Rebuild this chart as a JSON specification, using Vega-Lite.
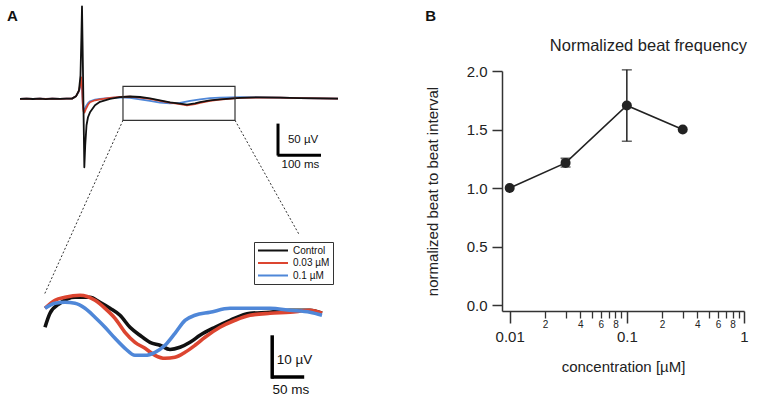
{
  "$schema": "https://vega.github.io/schema/vega-lite/v6.json",
  "padding": {"left": 0, "top": 5, "right": 5, "bottom": 0},
  "background": "white",
  "spacing": 80,
  "config": {
    "view": {"stroke": null},
    "font": "Liberation Sans",
    "axis": {"grid": false},
    "text": {"font": "Liberation Sans"}
  },
  "datasets": {
    "topTrace": [
      {"cond":"0.1 µM","t":0,"v":0},{"cond":"0.1 µM","t":15,"v":0.2},{"cond":"0.1 µM","t":30,"v":-0.2},{"cond":"0.1 µM","t":46.5,"v":0.2},{"cond":"0.1 µM","t":60,"v":-0.2},{"cond":"0.1 µM","t":75,"v":0.2},{"cond":"0.1 µM","t":93,"v":0},{"cond":"0.1 µM","t":108,"v":0.2},{"cond":"0.1 µM","t":120.9,"v":0.3},{"cond":"0.1 µM","t":130.2,"v":4},{"cond":"0.1 µM","t":137.2,"v":12},{"cond":"0.1 µM","t":140.7,"v":22},{"cond":"0.1 µM","t":142.6,"v":29.8},{"cond":"0.1 µM","t":144.2,"v":15},{"cond":"0.1 µM","t":146.1,"v":-8},{"cond":"0.1 µM","t":147.7,"v":-17},{"cond":"0.1 µM","t":150,"v":-18.5},{"cond":"0.1 µM","t":153.5,"v":-12},{"cond":"0.1 µM","t":158.1,"v":-7},{"cond":"0.1 µM","t":162.8,"v":-4},{"cond":"0.1 µM","t":174.4,"v":-1.5},{"cond":"0.1 µM","t":186,"v":0},{"cond":"0.1 µM","t":209.3,"v":1.5},{"cond":"0.1 µM","t":232.6,"v":2.2},{"cond":"0.1 µM","t":255.8,"v":1.6},{"cond":"0.1 µM","t":279.1,"v":-0.8},{"cond":"0.1 µM","t":302.3,"v":-3.5},{"cond":"0.1 µM","t":325.6,"v":-6},{"cond":"0.1 µM","t":348.8,"v":-7.5},{"cond":"0.1 µM","t":372.1,"v":-6.5},{"cond":"0.1 µM","t":395.3,"v":-3.5},{"cond":"0.1 µM","t":418.6,"v":-1},{"cond":"0.1 µM","t":441.9,"v":1},{"cond":"0.1 µM","t":465.1,"v":2},{"cond":"0.1 µM","t":511.6,"v":2.6},{"cond":"0.1 µM","t":558.1,"v":2.4},{"cond":"0.1 µM","t":604.7,"v":2},{"cond":"0.1 µM","t":651.2,"v":1.2},{"cond":"0.1 µM","t":697.7,"v":0.8},{"cond":"0.1 µM","t":739.5,"v":0.3},
      {"cond":"0.03 µM","t":0,"v":0},{"cond":"0.03 µM","t":15,"v":0.3},{"cond":"0.03 µM","t":30,"v":-0.2},{"cond":"0.03 µM","t":46.5,"v":0.3},{"cond":"0.03 µM","t":60,"v":-0.3},{"cond":"0.03 µM","t":75,"v":0.2},{"cond":"0.03 µM","t":93,"v":0},{"cond":"0.03 µM","t":108,"v":0.2},{"cond":"0.03 µM","t":120.9,"v":0.3},{"cond":"0.03 µM","t":130.2,"v":4},{"cond":"0.03 µM","t":137.2,"v":13},{"cond":"0.03 µM","t":140.7,"v":25},{"cond":"0.03 µM","t":142.6,"v":34.7},{"cond":"0.03 µM","t":144.2,"v":20},{"cond":"0.03 µM","t":146.1,"v":-10},{"cond":"0.03 µM","t":147.7,"v":-20},{"cond":"0.03 µM","t":150,"v":-22},{"cond":"0.03 µM","t":153.5,"v":-16},{"cond":"0.03 µM","t":158.1,"v":-9.7},{"cond":"0.03 µM","t":162.8,"v":-5.6},{"cond":"0.03 µM","t":174.4,"v":-2.4},{"cond":"0.03 µM","t":186,"v":-0.8},{"cond":"0.03 µM","t":209.3,"v":1.6},{"cond":"0.03 µM","t":232.6,"v":3.2},{"cond":"0.03 µM","t":255.8,"v":3.4},{"cond":"0.03 µM","t":279.1,"v":2},{"cond":"0.03 µM","t":302.3,"v":-0.2},{"cond":"0.03 µM","t":325.6,"v":-3.2},{"cond":"0.03 µM","t":348.8,"v":-6},{"cond":"0.03 µM","t":372.1,"v":-8.5},{"cond":"0.03 µM","t":388.4,"v":-10.5},{"cond":"0.03 µM","t":407,"v":-8.5},{"cond":"0.03 µM","t":418.6,"v":-6.5},{"cond":"0.03 µM","t":441.9,"v":-3.2},{"cond":"0.03 µM","t":465.1,"v":-1.2},{"cond":"0.03 µM","t":511.6,"v":1.6},{"cond":"0.03 µM","t":558.1,"v":2},{"cond":"0.03 µM","t":604.7,"v":1.8},{"cond":"0.03 µM","t":651.2,"v":1},{"cond":"0.03 µM","t":697.7,"v":0.8},{"cond":"0.03 µM","t":739.5,"v":0.3},
      {"cond":"Control","t":0,"v":0},{"cond":"Control","t":15,"v":0.4},{"cond":"Control","t":30,"v":-0.3},{"cond":"Control","t":46.5,"v":0.2},{"cond":"Control","t":60,"v":-0.4},{"cond":"Control","t":75,"v":0.3},{"cond":"Control","t":93,"v":0},{"cond":"Control","t":108,"v":0.3},{"cond":"Control","t":120.9,"v":0.3},{"cond":"Control","t":130.2,"v":4},{"cond":"Control","t":137.2,"v":13.7},{"cond":"Control","t":140.7,"v":37.9},{"cond":"Control","t":142.6,"v":94.4},{"cond":"Control","t":144.2,"v":149.2},{"cond":"Control","t":146.1,"v":62.1},{"cond":"Control","t":147.7,"v":-18.5},{"cond":"Control","t":149.6,"v":-110.5},{"cond":"Control","t":151.7,"v":-75},{"cond":"Control","t":154.7,"v":-42.7},{"cond":"Control","t":158.1,"v":-29.8},{"cond":"Control","t":162.8,"v":-21.8},{"cond":"Control","t":174.4,"v":-10.5},{"cond":"Control","t":186,"v":-4.8},{"cond":"Control","t":209.3,"v":0},{"cond":"Control","t":232.6,"v":2.7},{"cond":"Control","t":255.8,"v":3.7},{"cond":"Control","t":279.1,"v":2.9},{"cond":"Control","t":302.3,"v":0.8},{"cond":"Control","t":325.6,"v":-2.4},{"cond":"Control","t":348.8,"v":-5.6},{"cond":"Control","t":372.1,"v":-7.7},{"cond":"Control","t":388.4,"v":-9.4},{"cond":"Control","t":407,"v":-7.3},{"cond":"Control","t":418.6,"v":-5.2},{"cond":"Control","t":441.9,"v":-2.7},{"cond":"Control","t":465.1,"v":-0.8},{"cond":"Control","t":511.6,"v":1.6},{"cond":"Control","t":558.1,"v":2.4},{"cond":"Control","t":604.7,"v":1.9},{"cond":"Control","t":651.2,"v":1.1},{"cond":"Control","t":697.7,"v":0.8},{"cond":"Control","t":739.5,"v":0.3}
    ],
    "insetTrace": [
      {"cond":"Control","t":0,"v":-4.08},{"cond":"Control","t":7.8,"v":-0.72},{"cond":"Control","t":23.4,"v":1.68},{"cond":"Control","t":46.9,"v":3.12},{"cond":"Control","t":70.3,"v":3.12},{"cond":"Control","t":85.9,"v":1.92},{"cond":"Control","t":101.6,"v":0.48},{"cond":"Control","t":117.2,"v":-1.2},{"cond":"Control","t":132.8,"v":-4.08},{"cond":"Control","t":148.4,"v":-6},{"cond":"Control","t":164.1,"v":-7.68},{"cond":"Control","t":179.7,"v":-8.4},{"cond":"Control","t":195.3,"v":-9.4},{"cond":"Control","t":210.9,"v":-8.88},{"cond":"Control","t":226.6,"v":-7.68},{"cond":"Control","t":242.2,"v":-6},{"cond":"Control","t":265.6,"v":-4.08},{"cond":"Control","t":289.1,"v":-2.4},{"cond":"Control","t":320.3,"v":-0.72},{"cond":"Control","t":351.6,"v":-0.48},{"cond":"Control","t":382.8,"v":0},{"cond":"Control","t":414.1,"v":0},{"cond":"Control","t":432.8,"v":-0.72},
      {"cond":"0.03 µM","t":0,"v":0.48},{"cond":"0.03 µM","t":15.6,"v":2.4},{"cond":"0.03 µM","t":31.3,"v":3.12},{"cond":"0.03 µM","t":54.7,"v":3.6},{"cond":"0.03 µM","t":78.1,"v":2.4},{"cond":"0.03 µM","t":93.8,"v":0.48},{"cond":"0.03 µM","t":109.4,"v":-1.92},{"cond":"0.03 µM","t":125,"v":-5.28},{"cond":"0.03 µM","t":140.6,"v":-7.68},{"cond":"0.03 µM","t":156.3,"v":-9.12},{"cond":"0.03 µM","t":171.9,"v":-10.8},{"cond":"0.03 µM","t":187.5,"v":-11.52},{"cond":"0.03 µM","t":203.1,"v":-11.28},{"cond":"0.03 µM","t":218.8,"v":-10.08},{"cond":"0.03 µM","t":234.4,"v":-8.4},{"cond":"0.03 µM","t":250,"v":-6.48},{"cond":"0.03 µM","t":273.4,"v":-4.08},{"cond":"0.03 µM","t":296.9,"v":-2.4},{"cond":"0.03 µM","t":320.3,"v":-1.2},{"cond":"0.03 µM","t":351.6,"v":-0.72},{"cond":"0.03 µM","t":382.8,"v":-0.48},{"cond":"0.03 µM","t":414.1,"v":0},{"cond":"0.03 µM","t":432.8,"v":-0.72},
      {"cond":"0.1 µM","t":0,"v":0.48},{"cond":"0.1 µM","t":15.6,"v":1.68},{"cond":"0.1 µM","t":31.3,"v":1.92},{"cond":"0.1 µM","t":46.9,"v":1.68},{"cond":"0.1 µM","t":62.5,"v":0.48},{"cond":"0.1 µM","t":78.1,"v":-1.68},{"cond":"0.1 µM","t":93.8,"v":-4.08},{"cond":"0.1 µM","t":109.4,"v":-6.72},{"cond":"0.1 µM","t":125,"v":-9.12},{"cond":"0.1 µM","t":140.6,"v":-10.8},{"cond":"0.1 µM","t":156.3,"v":-10.8},{"cond":"0.1 µM","t":171.9,"v":-10.08},{"cond":"0.1 µM","t":187.5,"v":-8.4},{"cond":"0.1 µM","t":203.1,"v":-5.52},{"cond":"0.1 µM","t":218.8,"v":-2.4},{"cond":"0.1 µM","t":234.4,"v":-1.2},{"cond":"0.1 µM","t":257.8,"v":-0.48},{"cond":"0.1 µM","t":289.1,"v":0.48},{"cond":"0.1 µM","t":320.3,"v":0.48},{"cond":"0.1 µM","t":351.6,"v":0.48},{"cond":"0.1 µM","t":382.8,"v":0},{"cond":"0.1 µM","t":414.1,"v":-0.48},{"cond":"0.1 µM","t":432.8,"v":-1.2}
    ],
    "beat": [
      {"conc":0.01,"ratio":1.0},{"conc":0.03,"ratio":1.215},{"conc":0.1,"ratio":1.705},{"conc":0.3,"ratio":1.5}
    ],
    "beatErr": [
      {"conc":0.03,"lo":1.18,"hi":1.255},{"conc":0.1,"lo":1.4,"hi":2.01}
    ]
  },
  "hconcat": [
    {
      "width": 345,
      "height": 320,
      "resolve": {"scale": {"x": "independent", "y": "independent"}},
      "layer": [
        {
          "encoding": {
            "x": {"field": "t", "type": "quantitative", "scale": {"domain": [-46.5, 755.8], "nice": false, "zero": false}, "axis": null},
            "y": {"field": "v", "type": "quantitative", "scale": {"domain": [-471.3, 44.84], "nice": false, "zero": false}, "axis": null}
          },
          "layer": [
            {
              "data": {"name": "topTrace"},
              "mark": {"type": "line", "strokeWidth": 1.8, "strokeJoin": "round"},
              "encoding": {
                "color": {"field": "cond", "type": "nominal", "scale": {"domain": ["Control", "0.03 µM", "0.1 µM"], "range": ["#111111", "#dc4530", "#4f87d8"]},
                  "legend": {"orient": "none", "legendX": 254, "legendY": 171, "title": null, "symbolType": "stroke", "symbolSize": 900, "symbolStrokeWidth": 1.8, "clipHeight": 11, "rowPadding": 1.5, "labelFontSize": 10, "labelColor": "#111", "strokeColor": "#333", "fillColor": "white", "padding": 3, "labelOffset": 4, "cornerRadius": 0}}
              }
            },
            {
              "data": {"values": [{"t": 239.5, "t2": 500, "v": 20.2, "v2": -34.7}]},
              "mark": {"type": "rect", "filled": false, "stroke": "#333", "strokeWidth": 1.2},
              "encoding": {"x2": {"field": "t2"}, "y2": {"field": "v2"}}
            },
            {
              "data": {"values": [{"t": 239.5, "v": -34.7, "t2": 55.8, "v2": -317}, {"t": 500, "v": -34.7, "t2": 648.8, "v2": -218.6}]},
              "mark": {"type": "rule", "color": "#333", "strokeWidth": 1, "strokeDash": [2, 2]},
              "encoding": {"x2": {"field": "t2"}, "y2": {"field": "v2"}}
            },
            {
              "data": {"values": [{"t": 600, "t2": 600, "v": -40, "v2": -91.5}, {"t": 598.8, "t2": 700, "v": -91, "v2": -91}]},
              "mark": {"type": "rule", "color": "#000", "strokeWidth": 3},
              "encoding": {"x2": {"field": "t2"}, "y2": {"field": "v2"}}
            },
            {
              "data": {"values": [{"t": 623, "v": -66.9, "label": "50 µV"}]},
              "mark": {"type": "text", "align": "left", "baseline": "middle", "fontSize": 11.5, "color": "#111"},
              "encoding": {"text": {"field": "label"}}
            },
            {
              "data": {"values": [{"t": 652, "v": -107.3, "label": "100 ms"}]},
              "mark": {"type": "text", "align": "center", "baseline": "middle", "fontSize": 11.5, "color": "#111"},
              "encoding": {"text": {"field": "label"}}
            },
            {
              "data": {"values": [{"t": -30.2, "v": 133, "label": "A"}]},
              "mark": {"type": "text", "align": "left", "baseline": "middle", "fontSize": 15, "fontWeight": "bold", "color": "#111"},
              "encoding": {"text": {"field": "label"}}
            }
          ]
        },
        {
          "encoding": {
            "x": {"field": "t", "type": "quantitative", "scale": {"domain": [-70.31, 468.75], "nice": false, "zero": false}, "axis": null},
            "y": {"field": "v", "type": "quantitative", "scale": {"domain": [-19.37, 57.43], "nice": false, "zero": false}, "axis": null}
          },
          "layer": [
            {
              "data": {"name": "insetTrace"},
              "mark": {"type": "line", "strokeWidth": 3.6, "interpolate": "monotone"},
              "encoding": {
                "color": {"field": "cond", "type": "nominal", "scale": {"domain": ["Control", "0.03 µM", "0.1 µM"], "range": ["#111111", "#dc4530", "#4f87d8"]},
                  "legend": {"orient": "none", "legendX": 254, "legendY": 171, "title": null, "symbolType": "stroke", "symbolSize": 900, "symbolStrokeWidth": 1.8, "clipHeight": 11, "rowPadding": 1.5, "labelFontSize": 10, "labelColor": "#111", "strokeColor": "#333", "fillColor": "white", "padding": 3, "labelOffset": 4, "cornerRadius": 0}}
              }
            },
            {
              "data": {"values": [{"t": 355, "t2": 355, "v": -6, "v2": -16.4}, {"t": 353.5, "t2": 405, "v": -16, "v2": -16}]},
              "mark": {"type": "rule", "color": "#000", "strokeWidth": 3.5},
              "encoding": {"x2": {"field": "t2"}, "y2": {"field": "v2"}}
            },
            {
              "data": {"values": [{"t": 362, "v": -12, "label": "10 µV"}]},
              "mark": {"type": "text", "align": "left", "baseline": "middle", "fontSize": 13.5, "color": "#111"},
              "encoding": {"text": {"field": "label"}}
            },
            {
              "data": {"values": [{"t": 384, "v": -19.2, "label": "50 ms"}]},
              "mark": {"type": "text", "align": "center", "baseline": "middle", "fontSize": 13.5, "color": "#111"},
              "encoding": {"text": {"field": "label"}}
            }
          ]
        }
      ]
    },
    {
      "width": 242,
      "height": 240,
      "resolve": {"axis": {"x": "independent"}},
      "layer": [
        {
          "data": {"name": "beat"},
          "mark": {"type": "line", "color": "#222", "strokeWidth": 1.6},
          "encoding": {
            "x": {"field": "conc", "type": "quantitative", "scale": {"type": "log", "domain": [0.0086, 1.0], "nice": false},
              "axis": {"orient": "bottom", "values": [0.01, 0.1, 1], "format": "~g", "tickSize": 12, "tickWidth": 1.5, "tickColor": "#333", "domainColor": "#333", "domainWidth": 1.5, "labelFontSize": 15, "labelColor": "#222", "labelPadding": 6, "labelFlush": false, "labelOverlap": false, "title": "concentration [µM]", "titleFontSize": 15, "titleFontWeight": "normal", "titleColor": "#222", "titlePadding": 15}},
            "y": {"field": "ratio", "type": "quantitative", "scale": {"domain": [-0.05, 2.0], "nice": false, "zero": false},
              "axis": {"values": [0, 0.5, 1, 1.5, 2], "format": ".1f", "tickSize": 10, "tickWidth": 1.5, "tickColor": "#333", "domainColor": "#333", "domainWidth": 1.5, "labelFontSize": 15, "labelColor": "#222", "labelPadding": 5, "title": "normalized beat to beat interval", "titleFontSize": 15, "titleFontWeight": "normal", "titleColor": "#222", "titlePadding": 26}}
          }
        },
        {
          "data": {"name": "beat"},
          "mark": {"type": "point", "filled": true, "color": "#222", "size": 100, "opacity": 1},
          "encoding": {
            "x": {"field": "conc", "type": "quantitative", "scale": {"type": "log", "domain": [0.0086, 1.0], "nice": false},
              "axis": {"orient": "bottom", "values": [0.02, 0.03, 0.04, 0.05, 0.06, 0.07, 0.08, 0.09, 0.2, 0.3, 0.4, 0.5, 0.6, 0.7, 0.8, 0.9], "labelExpr": "(datum.value < 0.095 ? round(datum.value*100) : round(datum.value*10)) % 2 == 0 ? '' + (datum.value < 0.095 ? round(datum.value*100) : round(datum.value*10)) : ''", "tickSize": 7, "tickWidth": 1.3, "tickColor": "#333", "domain": false, "labelFontSize": 10, "labelColor": "#222", "labelPadding": 1, "labelOverlap": false, "labelFlush": false, "title": null}},
            "y": {"field": "ratio", "type": "quantitative", "scale": {"domain": [-0.05, 2.0], "nice": false, "zero": false}}
          }
        },
        {
          "data": {"name": "beatErr"},
          "mark": {"type": "rule", "color": "#222", "strokeWidth": 1.5},
          "encoding": {
            "x": {"field": "conc", "type": "quantitative", "scale": {"type": "log", "domain": [0.0086, 1.0], "nice": false}, "axis": null},
            "y": {"field": "lo", "type": "quantitative", "scale": {"domain": [-0.05, 2.0], "nice": false, "zero": false}},
            "y2": {"field": "hi"}
          }
        },
        {
          "data": {"name": "beatErr"},
          "mark": {"type": "tick", "orient": "horizontal", "color": "#222", "size": 10, "thickness": 1.5},
          "encoding": {
            "x": {"field": "conc", "type": "quantitative", "scale": {"type": "log", "domain": [0.0086, 1.0], "nice": false}, "axis": null},
            "y": {"field": "lo", "type": "quantitative", "scale": {"domain": [-0.05, 2.0], "nice": false, "zero": false}}
          }
        },
        {
          "data": {"name": "beatErr"},
          "mark": {"type": "tick", "orient": "horizontal", "color": "#222", "size": 10, "thickness": 1.5},
          "encoding": {
            "x": {"field": "conc", "type": "quantitative", "scale": {"type": "log", "domain": [0.0086, 1.0], "nice": false}, "axis": null},
            "y": {"field": "hi", "type": "quantitative", "scale": {"domain": [-0.05, 2.0], "nice": false, "zero": false}}
          }
        },
        {
          "data": {"values": [{"label": "Normalized beat frequency"}]},
          "mark": {"type": "text", "align": "right", "baseline": "middle", "dx": 3, "fontSize": 16.5, "color": "#222"},
          "encoding": {
            "x": {"datum": 1.0, "type": "quantitative", "scale": {"type": "log", "domain": [0.0086, 1.0], "nice": false}, "axis": null},
            "y": {"datum": 2.21, "type": "quantitative", "scale": {"domain": [-0.05, 2.0], "nice": false, "zero": false}},
            "text": {"field": "label"}
          }
        },
        {
          "data": {"values": [{"label": "B"}]},
          "mark": {"type": "text", "align": "left", "baseline": "middle", "fontSize": 15, "fontWeight": "bold", "color": "#111"},
          "encoding": {
            "x": {"datum": 0.0019, "type": "quantitative", "scale": {"type": "log", "domain": [0.0086, 1.0], "nice": false}, "axis": null},
            "y": {"datum": 2.467, "type": "quantitative", "scale": {"domain": [-0.05, 2.0], "nice": false, "zero": false}},
            "text": {"field": "label"}
          }
        }
      ]
    }
  ]
}
